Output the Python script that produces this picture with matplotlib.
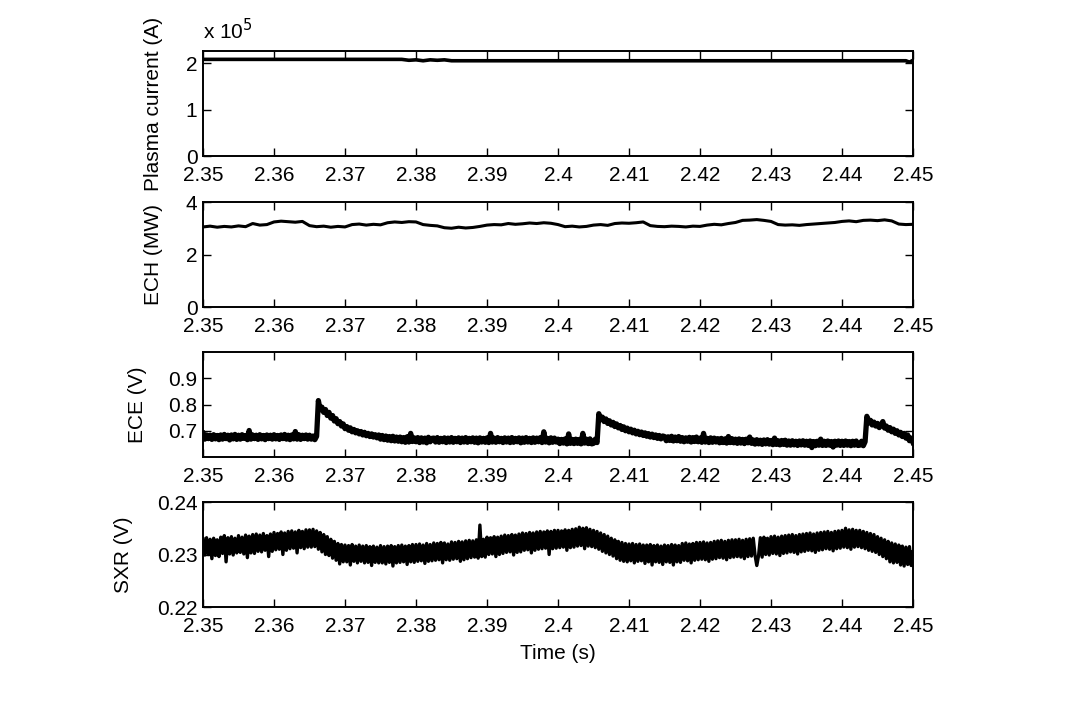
import numpy as np
import matplotlib
matplotlib.use("Agg")
import matplotlib.pyplot as plt

plt.rcParams['font.family'] = ['Liberation Sans', 'DejaVu Sans']

# ---------------- data ----------------
x_ticks = [2.35, 2.36, 2.37, 2.38, 2.39, 2.40, 2.41, 2.42, 2.43, 2.44, 2.45]
x_tick_labels = ['2.35', '2.36', '2.37', '2.38', '2.39', '2.4',
                 '2.41', '2.42', '2.43', '2.44', '2.45']

# Plasma current (units of 1e5 A)
ip_time = [2.350, 2.360, 2.370, 2.378, 2.379, 2.380, 2.381, 2.382, 2.383,
           2.384, 2.385, 2.390, 2.400, 2.405, 2.410, 2.420, 2.430, 2.440,
           2.449, 2.4495, 2.450]
ip_val = [2.08, 2.08, 2.08, 2.08, 2.06, 2.07, 2.05, 2.07, 2.06,
          2.07, 2.05, 2.05, 2.05, 2.05, 2.05, 2.05, 2.05, 2.05,
          2.05, 2.02, 2.06]

# ECH power (MW), 1 ms sampling from 2.350 to 2.450
ech_val = [3.05, 3.08, 3.04, 3.07, 3.05, 3.09, 3.06, 3.18, 3.12, 3.14,
           3.24, 3.27, 3.25, 3.23, 3.26, 3.10, 3.06, 3.08, 3.04, 3.07,
           3.05, 3.14, 3.16, 3.12, 3.15, 3.13, 3.21, 3.24, 3.22, 3.25,
           3.24, 3.14, 3.11, 3.09, 3.02, 3.00, 3.04, 3.01, 3.03, 3.07,
           3.12, 3.14, 3.13, 3.18, 3.15, 3.17, 3.20, 3.18, 3.21, 3.19,
           3.14, 3.06, 3.08, 3.05, 3.07, 3.12, 3.14, 3.11, 3.18, 3.20,
           3.19, 3.21, 3.24, 3.10, 3.07, 3.06, 3.08, 3.07, 3.05, 3.08,
           3.07, 3.12, 3.15, 3.13, 3.18, 3.22, 3.30, 3.31, 3.33, 3.30,
           3.26, 3.14, 3.12, 3.13, 3.11, 3.14, 3.16, 3.18, 3.20, 3.22,
           3.26, 3.28, 3.25, 3.30, 3.31, 3.29, 3.32, 3.28, 3.16, 3.14,
           3.15]

# ECE (V), 0.25 ms sampling from 2.350 to 2.450
ece_val = [0.690, 0.668, 0.684, 0.670, 0.683, 0.667, 0.685, 0.669, 0.682, 0.666,
           0.684, 0.668, 0.686, 0.670, 0.683, 0.665, 0.684, 0.669, 0.686, 0.667,
           0.683, 0.668, 0.685, 0.671, 0.682, 0.666, 0.701, 0.668, 0.684, 0.670,
           0.683, 0.667, 0.685, 0.669, 0.682, 0.666, 0.684, 0.670, 0.683, 0.668,
           0.685, 0.669, 0.682, 0.667, 0.684, 0.670, 0.686, 0.668, 0.683, 0.666,
           0.684, 0.669, 0.697, 0.668, 0.685, 0.667, 0.683, 0.670, 0.684, 0.668,
           0.683, 0.668, 0.680, 0.666, 0.679, 0.815, 0.780, 0.790, 0.770, 0.781,
           0.758, 0.770, 0.748, 0.758, 0.737, 0.746, 0.727, 0.735, 0.718, 0.726,
           0.708, 0.716, 0.702, 0.711, 0.696, 0.705, 0.692, 0.700, 0.688, 0.697,
           0.684, 0.694, 0.681, 0.690, 0.678, 0.688, 0.676, 0.685, 0.673, 0.684,
           0.668, 0.682, 0.666, 0.680, 0.664, 0.678, 0.662, 0.679, 0.661, 0.676,
           0.660, 0.676, 0.658, 0.674, 0.656, 0.677, 0.657, 0.690, 0.659, 0.673,
           0.658, 0.674, 0.655, 0.673, 0.657, 0.672, 0.654, 0.675, 0.658, 0.671,
           0.672, 0.657, 0.674, 0.656, 0.671, 0.658, 0.673, 0.655, 0.672, 0.657,
           0.674, 0.656, 0.671, 0.658, 0.673, 0.655, 0.672, 0.657, 0.674, 0.656,
           0.671, 0.658, 0.673, 0.656, 0.672, 0.654, 0.673, 0.657, 0.671, 0.656,
           0.673, 0.655, 0.690, 0.657, 0.672, 0.656, 0.674, 0.658, 0.671, 0.655,
           0.673, 0.657, 0.672, 0.655, 0.674, 0.656, 0.671, 0.658, 0.673, 0.654,
           0.672, 0.656, 0.674, 0.657, 0.671, 0.655, 0.673, 0.656, 0.672, 0.658,
           0.674, 0.655, 0.696, 0.657, 0.671, 0.654, 0.673, 0.656, 0.672, 0.657,
           0.668, 0.651, 0.667, 0.653, 0.669, 0.650, 0.688, 0.652, 0.667, 0.651,
           0.668, 0.652, 0.667, 0.650, 0.690, 0.653, 0.668, 0.651, 0.669, 0.650,
           0.652, 0.668, 0.655, 0.765, 0.742, 0.752, 0.735, 0.745, 0.728, 0.738,
           0.722, 0.732, 0.716, 0.726, 0.711, 0.720, 0.705, 0.715, 0.700, 0.710,
           0.696, 0.706, 0.692, 0.702, 0.688, 0.698, 0.685, 0.695, 0.682, 0.692,
           0.679, 0.689, 0.676, 0.687, 0.674, 0.684, 0.671, 0.682, 0.669, 0.680,
           0.678, 0.662, 0.677, 0.663, 0.679, 0.661, 0.676, 0.662, 0.678, 0.660,
           0.674, 0.658, 0.673, 0.660, 0.675, 0.657, 0.674, 0.659, 0.676, 0.658,
           0.672, 0.656, 0.690, 0.657, 0.671, 0.655, 0.673, 0.656, 0.672, 0.657,
           0.670, 0.654, 0.671, 0.655, 0.669, 0.653, 0.678, 0.655, 0.670, 0.654,
           0.668, 0.652, 0.669, 0.653, 0.667, 0.651, 0.668, 0.654, 0.676, 0.652,
           0.665, 0.649, 0.666, 0.650, 0.664, 0.648, 0.665, 0.650, 0.666, 0.649,
           0.663, 0.647, 0.672, 0.648, 0.662, 0.646, 0.663, 0.648, 0.664, 0.645,
           0.661, 0.645, 0.662, 0.646, 0.660, 0.644, 0.661, 0.646, 0.662, 0.645,
           0.660, 0.644, 0.661, 0.636, 0.659, 0.643, 0.660, 0.645, 0.668, 0.644,
           0.660, 0.644, 0.661, 0.645, 0.659, 0.638, 0.660, 0.645, 0.661, 0.644,
           0.660, 0.644, 0.661, 0.645, 0.659, 0.643, 0.660, 0.645, 0.661, 0.644,
           0.645, 0.660, 0.643, 0.658, 0.755, 0.730, 0.740, 0.722, 0.733, 0.718,
           0.728, 0.712, 0.722, 0.735, 0.710, 0.718, 0.702, 0.712, 0.696, 0.706,
           0.690, 0.700, 0.684, 0.694, 0.678, 0.690, 0.672, 0.684, 0.662, 0.672,
           0.655]

# SXR (V), 0.25 ms sampling from 2.350 to 2.450
sxr_val = [0.2330, 0.2299, 0.2332, 0.2300, 0.2329, 0.2292, 0.2331, 0.2298, 0.2328, 0.2296,
           0.2333, 0.2302, 0.2336, 0.2286, 0.2332, 0.2301, 0.2334, 0.2299, 0.2331, 0.2303,
           0.2336, 0.2304, 0.2333, 0.2301, 0.2337, 0.2294, 0.2335, 0.2303, 0.2338, 0.2302,
           0.2339, 0.2306, 0.2337, 0.2305, 0.2340, 0.2308, 0.2336, 0.2296, 0.2339, 0.2306,
           0.2342, 0.2309, 0.2340, 0.2310, 0.2343, 0.2300, 0.2341, 0.2308, 0.2344, 0.2311,
           0.2345, 0.2312, 0.2343, 0.2303, 0.2346, 0.2313, 0.2344, 0.2311, 0.2347, 0.2314,
           0.2347, 0.2314, 0.2348, 0.2315, 0.2345, 0.2310, 0.2342, 0.2305, 0.2338, 0.2300,
           0.2334, 0.2298, 0.2329, 0.2293, 0.2325, 0.2289, 0.2321, 0.2282, 0.2319, 0.2286,
           0.2318, 0.2286, 0.2317, 0.2280, 0.2319, 0.2287, 0.2316, 0.2284, 0.2318, 0.2287,
           0.2316, 0.2284, 0.2317, 0.2285, 0.2315, 0.2279, 0.2316, 0.2285, 0.2314, 0.2284,
           0.2317, 0.2284, 0.2315, 0.2282, 0.2316, 0.2285, 0.2317, 0.2278, 0.2315, 0.2284,
           0.2317, 0.2285, 0.2318, 0.2286, 0.2316, 0.2281, 0.2317, 0.2286, 0.2319, 0.2285,
           0.2319, 0.2287, 0.2320, 0.2288, 0.2318, 0.2283, 0.2321, 0.2287, 0.2319, 0.2288,
           0.2322, 0.2289, 0.2321, 0.2290, 0.2323, 0.2284, 0.2322, 0.2290, 0.2320, 0.2289,
           0.2324, 0.2291, 0.2323, 0.2292, 0.2325, 0.2287, 0.2324, 0.2290, 0.2326, 0.2292,
           0.2327, 0.2294, 0.2326, 0.2295, 0.2328, 0.2293, 0.2356, 0.2296, 0.2329, 0.2295,
           0.2333, 0.2300, 0.2332, 0.2301, 0.2334, 0.2296, 0.2333, 0.2300, 0.2335, 0.2302,
           0.2337, 0.2304, 0.2336, 0.2305, 0.2338, 0.2299, 0.2337, 0.2304, 0.2339, 0.2305,
           0.2341, 0.2308, 0.2340, 0.2309, 0.2342, 0.2303, 0.2341, 0.2308, 0.2343, 0.2310,
           0.2344, 0.2311, 0.2343, 0.2312, 0.2345, 0.2300, 0.2344, 0.2311, 0.2346, 0.2312,
           0.2346, 0.2313, 0.2345, 0.2314, 0.2347, 0.2308, 0.2346, 0.2313, 0.2348, 0.2314,
           0.2349, 0.2316, 0.2352, 0.2317, 0.2350, 0.2311, 0.2351, 0.2316, 0.2348, 0.2315,
           0.2346, 0.2313, 0.2344, 0.2310, 0.2341, 0.2306, 0.2338, 0.2303, 0.2335, 0.2300,
           0.2331, 0.2297, 0.2328, 0.2292, 0.2325, 0.2289, 0.2323, 0.2287, 0.2321, 0.2286,
           0.2320, 0.2288, 0.2321, 0.2284, 0.2319, 0.2287, 0.2320, 0.2288, 0.2318, 0.2283,
           0.2318, 0.2286, 0.2319, 0.2280, 0.2317, 0.2286, 0.2318, 0.2285, 0.2316, 0.2281,
           0.2318, 0.2286, 0.2317, 0.2285, 0.2319, 0.2280, 0.2318, 0.2286, 0.2317, 0.2285,
           0.2321, 0.2289, 0.2322, 0.2288, 0.2320, 0.2284, 0.2321, 0.2289, 0.2323, 0.2290,
           0.2323, 0.2291, 0.2324, 0.2290, 0.2322, 0.2287, 0.2323, 0.2291, 0.2325, 0.2292,
           0.2326, 0.2294, 0.2327, 0.2293, 0.2325, 0.2290, 0.2327, 0.2294, 0.2328, 0.2295,
           0.2328, 0.2296, 0.2329, 0.2295, 0.2327, 0.2292, 0.2329, 0.2296, 0.2330, 0.2297,
           0.2331, 0.2299, 0.2279, 0.2298, 0.2332, 0.2295, 0.2333, 0.2300, 0.2331, 0.2299,
           0.2334, 0.2302, 0.2335, 0.2301, 0.2333, 0.2298, 0.2335, 0.2302, 0.2336, 0.2303,
           0.2337, 0.2305, 0.2338, 0.2304, 0.2336, 0.2301, 0.2338, 0.2305, 0.2339, 0.2306,
           0.2340, 0.2308, 0.2341, 0.2307, 0.2339, 0.2304, 0.2341, 0.2308, 0.2342, 0.2309,
           0.2343, 0.2311, 0.2344, 0.2310, 0.2342, 0.2307, 0.2344, 0.2311, 0.2345, 0.2312,
           0.2346, 0.2314, 0.2350, 0.2313, 0.2347, 0.2310, 0.2348, 0.2314, 0.2346, 0.2315,
           0.2346, 0.2313, 0.2344, 0.2311, 0.2342, 0.2308, 0.2340, 0.2306, 0.2338, 0.2304,
           0.2334, 0.2300, 0.2331, 0.2296, 0.2328, 0.2292, 0.2325, 0.2286, 0.2322, 0.2284,
           0.2320, 0.2285, 0.2318, 0.2280, 0.2316, 0.2278, 0.2314, 0.2281, 0.2315, 0.2279,
           0.2305]

ech_time = np.linspace(2.35, 2.45, len(ech_val))
ece_time = np.linspace(2.35, 2.45, len(ece_val))
sxr_time = np.linspace(2.35, 2.45, len(sxr_val))

# ---------------- figure ----------------
fig = plt.figure(figsize=(10.67, 7.05), dpi=100)
W, H = 1067.0, 705.0
left = 203 / W
width = 710 / W
height = 105 / H

panels = [
    dict(bottom=1 - 156 / H, t=ip_time, y=ip_val, ylim=(0, 2.26), yticks=[0, 1, 2],
         yticklabels=['0', '1', '2'], label='Plasma current (A)', lx=-0.056, lw=2.6),
    dict(bottom=1 - 307 / H, t=ech_time, y=ech_val, ylim=(0, 4), yticks=[0, 2, 4],
         yticklabels=['0', '2', '4'], label='ECH (MW)', lx=-0.056, lw=2.2),
    dict(bottom=1 - 457 / H, t=ece_time, y=ece_val, ylim=(0.6, 1.0), yticks=[0.7, 0.8, 0.9],
         yticklabels=['0.7', '0.8', '0.9'], label='ECE (V)', lx=-0.079, lw=3.8),
    dict(bottom=1 - 607 / H, t=sxr_time, y=sxr_val, ylim=(0.22, 0.24), yticks=[0.22, 0.23, 0.24],
         yticklabels=['0.22', '0.23', '0.24'], label='SXR (V)', lx=-0.099, lw=2.4),
]

fs = 15
axes = []
for p in panels:
    ax = fig.add_axes([left, p['bottom'], width, height])
    ax.plot(p['t'], p['y'], color='black', lw=p['lw'], solid_joinstyle='round')
    ax.set_xlim(2.35, 2.45)
    ax.set_ylim(*p['ylim'])
    ax.set_xticks(x_ticks)
    ax.set_xticklabels(x_tick_labels)
    ax.set_yticks(p['yticks'])
    ax.set_yticklabels(p['yticklabels'])
    ax.tick_params(direction='in', length=6, width=1.0, top=True, right=True,
                   labelsize=fs)
    ax.tick_params(axis='x', pad=7)
    ax.tick_params(axis='y', pad=4)
    for s in ax.spines.values():
        s.set_linewidth(1.4)
    ax.set_ylabel(p['label'], fontsize=fs)
    ax.yaxis.set_label_coords(p['lx'], 0.5)
    axes.append(ax)

axes[0].text(0.0, 1.07, r'x 10$^{5}$', transform=axes[0].transAxes,
             fontsize=fs, ha='left', va='bottom')
axes[-1].set_xlabel('Time (s)', fontsize=fs, labelpad=6)

fig.savefig('out.png', dpi=100, facecolor='white')
